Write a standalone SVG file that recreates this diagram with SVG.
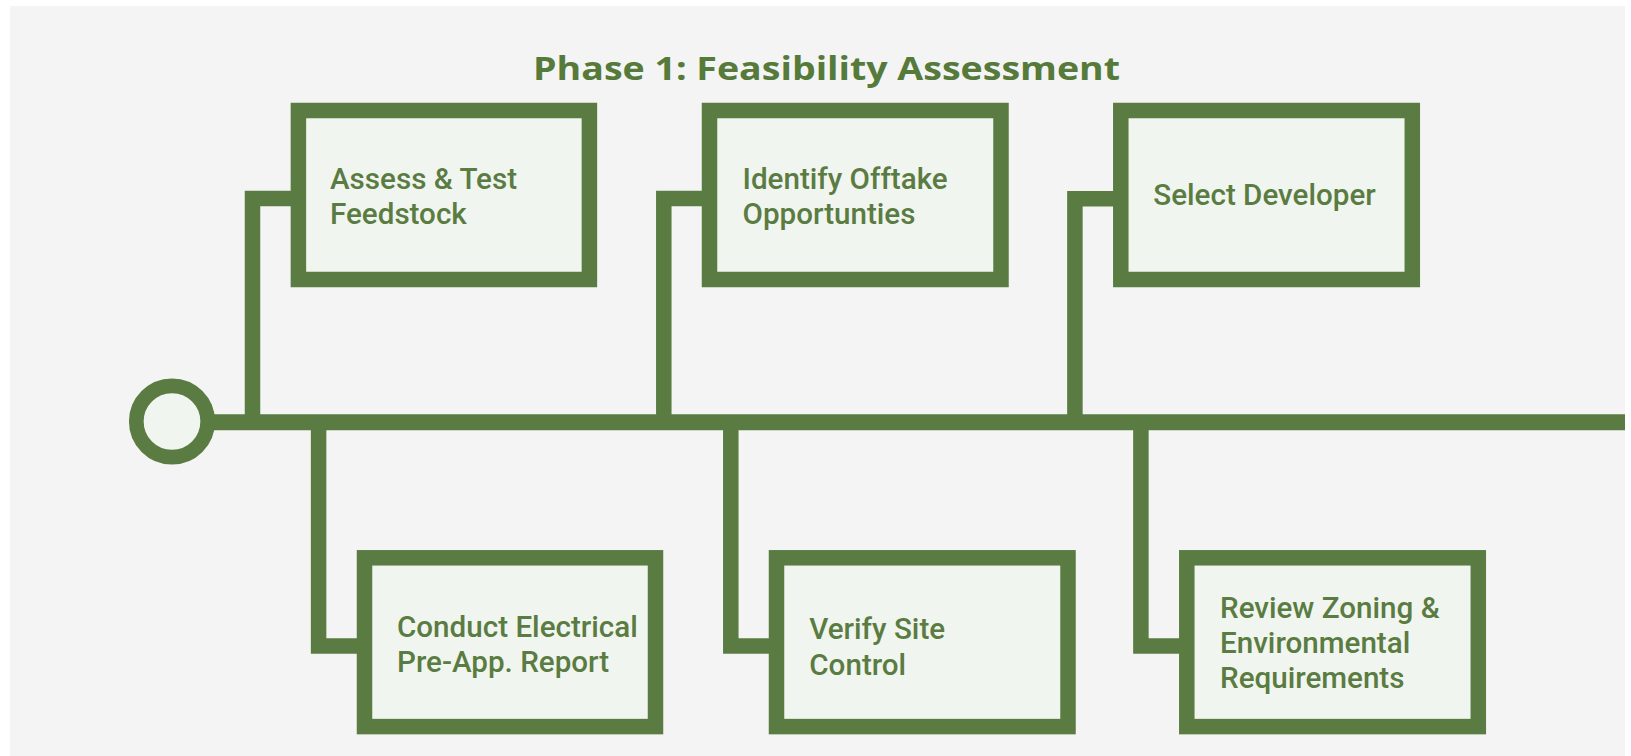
<svg xmlns="http://www.w3.org/2000/svg" width="1631" height="756" viewBox="0 0 1631 756">
  <style>
    .bg { fill: #f4f4f4; }
    .box { fill: #f1f5ef; stroke: #5a7c42; stroke-width: 15.5; }
    .conn { fill: none; stroke: #5a7c42; stroke-width: 15.5; stroke-linejoin: miter; stroke-linecap: butt; }
    .lbl { font-family: Roboto, "Liberation Sans", sans-serif; font-weight: 500; font-size: 29.6px; fill: #5a7c42; }
    .title { font-family: "Open Sans", "Liberation Sans", sans-serif; font-weight: 700; font-size: 32px; fill: #557a3a; }
  </style>
  <rect class="bg" x="10" y="6" width="1615" height="750"/>
  <text class="title" x="533" y="79.5" textLength="587" lengthAdjust="spacingAndGlyphs">Phase 1: Feasibility Assessment</text>

  <g id="connectors">
    <path class="conn" d="M214 422.3 H1625" style="stroke-width:16"/>
    <path class="conn" d="M252.5 422 V198.5 H299"/>
    <path class="conn" d="M663.8 422 V198.5 H710"/>
    <path class="conn" d="M1074.9 422 V198.7 H1121"/>
    <path class="conn" d="M318.6 422 V646 H365"/>
    <path class="conn" d="M730.8 422 V646 H777"/>
    <path class="conn" d="M1140.9 422 V646 H1187"/>
  </g>

  <g id="start">
    <circle cx="172" cy="421.5" r="35.7" fill="#f1f5ef" stroke="#5a7c42" stroke-width="14.7"/>
  </g>

  <g id="n1">
    <rect class="box" x="298.4" y="110.5" width="291" height="169"/>
    <text class="lbl" x="330"><tspan x="330" y="188.5">Assess &amp; Test</tspan><tspan x="330" y="223.5">Feedstock</tspan></text>
  </g>
  <g id="n2">
    <rect class="box" x="709.5" y="110.5" width="291.5" height="169"/>
    <text class="lbl" x="742.5"><tspan x="742.5" y="189.3">Identify Offtake</tspan><tspan x="742.5" y="224.3">Opportunties</tspan></text>
  </g>
  <g id="n3">
    <rect class="box" x="1120.8" y="110.5" width="291.5" height="169"/>
    <text class="lbl" x="1153.3" y="205">Select Developer</text>
  </g>
  <g id="n4">
    <rect class="box" x="364.5" y="557.8" width="291" height="168.8"/>
    <text class="lbl" x="397"><tspan x="397" y="636.7">Conduct Electrical</tspan><tspan x="397" y="671.7">Pre-App. Report</tspan></text>
  </g>
  <g id="n5">
    <rect class="box" x="776.5" y="557.8" width="291.5" height="168.8"/>
    <text class="lbl" x="809.3"><tspan x="809.3" y="639.3">Verify Site</tspan><tspan x="809.3" y="675">Control</tspan></text>
  </g>
  <g id="n6">
    <rect class="box" x="1186.8" y="557.8" width="291.5" height="168.8"/>
    <text class="lbl" x="1220"><tspan x="1220" y="617.6">Review Zoning &amp;</tspan><tspan x="1220" y="652.5">Environmental</tspan><tspan x="1220" y="687.9">Requirements</tspan></text>
  </g>
</svg>
